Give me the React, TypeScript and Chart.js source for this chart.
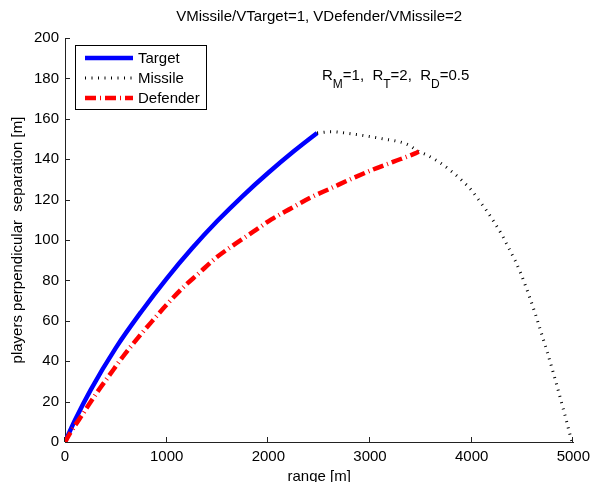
import { useEffect, useRef } from "react";
import { Chart, registerables } from "chart.js";

Chart.register(...registerables);

const titleText = "VMissile/VTarget=1, VDefender/VMissile=2";
const xLabel = "range [m]";
const yLabel = "players perpendicular  separation [m]";
const legendLabels = ["Target", "Missile", "Defender"];

const xTicks = [0, 1000, 2000, 3000, 4000, 5000];
const yTicks = [0, 20, 40, 60, 80, 100, 120, 140, 160, 180, 200];

const targetX = [0, 100, 250, 500, 750, 1000, 1250, 1500, 1750, 2000, 2250, 2480];
const targetY = [0, 11, 25.6, 46.6, 64.5, 80.9, 95.9, 109.5, 121.9, 133.3, 143.9, 153];

const missileX = [2480, 2620, 2778, 3102, 3363, 3480, 3557, 3681, 3794, 3899, 3996, 4070, 4149, 4224, 4298, 4363, 4428, 4483, 4533, 4580, 4624, 4666, 4707, 4747, 4786, 4823, 4860, 4898, 4935, 4968, 4988];
const missileY = [153, 153.6, 152.8, 150.3, 147.4, 143.8, 142.1, 138.5, 134.3, 129.7, 124.8, 119.8, 114.4, 108.6, 102.5, 96.2, 89.8, 83.5, 76.9, 70.3, 63.7, 57.1, 50.5, 43.9, 37.3, 30.7, 24, 16.9, 10, 3.5, 0];

const defenderX = [0, 49, 179, 309, 439, 569, 705, 845, 997, 1170, 1316, 1478, 1657, 1852, 2030, 2225, 2420, 2615, 2827, 3021, 3233, 3444, 3480];
const defenderY = [0, 4.3, 14.2, 24.1, 33.2, 42.2, 50.8, 59.1, 67.8, 76.9, 83.5, 90.9, 97.5, 104.1, 110.2, 115.7, 121.1, 125.6, 130.5, 134.7, 138.8, 142.9, 143.8];

const FONT = '"Liberation Sans", Arial, sans-serif';

const toPts = (xs: number[], ys: number[]) => xs.map((x, i) => ({ x, y: ys[i] }));

const styles = [
  { color: "#0000ff", width: 4.5, dash: [] as number[] },
  { color: "#000000", width: 3, dash: [1, 5.5] },
  { color: "#ff0000", width: 4.5, dash: [11, 4, 1, 4] },
];

const decor = {
  id: "decor",
  afterDraw(chart: any) {
    const { ctx, chartArea: ca, scales } = chart;
    ctx.save();
    // inward ticks
    ctx.strokeStyle = "#222";
    ctx.lineWidth = 1;
    ctx.setLineDash([]);
    xTicks.forEach((v) => {
      const px = Math.round(scales.x.getPixelForValue(v)) - 0.5;
      ctx.beginPath();
      ctx.moveTo(px, ca.bottom);
      ctx.lineTo(px, ca.bottom - 5);
      ctx.stroke();
    });
    yTicks.forEach((v) => {
      const py = Math.round(scales.y.getPixelForValue(v)) + 0.5;
      ctx.beginPath();
      ctx.moveTo(ca.left, py);
      ctx.lineTo(ca.left + 5, py);
      ctx.stroke();
    });

    // titles
    ctx.fillStyle = "#000";
    ctx.font = `15px ${FONT}`;
    ctx.textAlign = "center";
    ctx.textBaseline = "alphabetic";
    const cx = (ca.left + ca.right) / 2;
    ctx.fillText(titleText, cx, 21);
    ctx.fillText(xLabel, cx, 481);
    ctx.save();
    ctx.translate(18, (ca.top + ca.bottom) / 2);
    ctx.rotate(-Math.PI / 2);
    ctx.textBaseline = "middle";
    ctx.fillText(yLabel, 0, 0);
    ctx.restore();

    // annotation with subscripts
    ctx.textAlign = "left";
    ctx.textBaseline = "alphabetic";
    const parts: [string, boolean][] = [
      ["R", false], ["M", true], ["=1,  ", false],
      ["R", false], ["T", true], ["=2,  ", false],
      ["R", false], ["D", true], ["=0.5", false],
    ];
    let ax = 322;
    parts.forEach(([t, sub]) => {
      ctx.font = sub ? `12px ${FONT}` : `15px ${FONT}`;
      ctx.fillText(t, ax, sub ? 87.5 : 80);
      ax += ctx.measureText(t).width;
    });

    // legend box
    ctx.fillStyle = "#fff";
    ctx.fillRect(75.5, 45.5, 131, 64);
    ctx.strokeStyle = "#000";
    ctx.lineWidth = 1;
    ctx.strokeRect(75.5, 45.5, 131, 64);
    legendLabels.forEach((lab, i) => {
      const y = 58 + i * 20;
      const s = styles[i];
      ctx.strokeStyle = s.color;
      ctx.lineWidth = s.width;
      ctx.setLineDash(s.dash);
      ctx.lineCap = "butt";
      ctx.beginPath();
      ctx.moveTo(85, y);
      ctx.lineTo(133, y);
      ctx.stroke();
      ctx.setLineDash([]);
      ctx.fillStyle = "#000";
      ctx.font = `15px ${FONT}`;
      ctx.textBaseline = "middle";
      ctx.fillText(lab, 138, y + 0.5);
    });
    ctx.restore();
  },
};

export default function App() {
  const ref = useRef<HTMLCanvasElement>(null);
  useEffect(() => {
    document.body.style.margin = "0";
    const canvas = ref.current!;
    const series = [toPts(targetX, targetY), toPts(missileX, missileY), toPts(defenderX, defenderY)];
    const chart = new Chart(canvas, {
      type: "line",
      data: {
        datasets: series.map((d, i) => ({
          label: legendLabels[i],
          data: d,
          borderColor: styles[i].color,
          borderWidth: styles[i].width,
          borderDash: styles[i].dash,
          borderCapStyle: "butt",
          pointRadius: 0,
          fill: false,
          cubicInterpolationMode: "monotone",
          order: 2 - i,
        })),
      },
      options: {
        responsive: false,
        animation: false,
        devicePixelRatio: 1,
        layout: { padding: { top: 38, right: 18, left: 0, bottom: 0 } },
        plugins: { legend: { display: false }, title: { display: false }, tooltip: { enabled: false } },
        font: { family: FONT, size: 15 },
        scales: {
          x: {
            type: "linear",
            min: 0,
            max: 5000,
            afterBuildTicks: (s: any) => { s.ticks = xTicks.map((v) => ({ value: v })); },
            afterFit: (s: any) => { s.height = 40; },
            grid: { display: false, drawTicks: false },
            border: { display: true, color: "#222", width: 1 },
            ticks: { color: "#000", font: { family: FONT, size: 15 }, padding: 6, maxRotation: 0, autoSkip: false, callback: (v: any) => String(v) },
          },
          y: {
            type: "linear",
            min: 0,
            max: 200,
            afterBuildTicks: (s: any) => { s.ticks = yTicks.map((v) => ({ value: v })); },
            afterFit: (s: any) => { s.width = 65; },
            grid: { display: false, drawTicks: false },
            border: { display: true, color: "#222", width: 1 },
            ticks: { color: "#000", font: { family: FONT, size: 15 }, padding: 6, autoSkip: false, callback: (v: any) => String(v) },
          },
        },
      } as any,
      plugins: [decor],
    });
    return () => chart.destroy();
  }, []);
  return (
    <div style={{ position: "absolute", left: 0, top: 0, width: 596, height: 482, background: "#fff" }}>
      <canvas ref={ref} width={596} height={482} style={{ width: 596, height: 482, display: "block" }} />
    </div>
  );
}
